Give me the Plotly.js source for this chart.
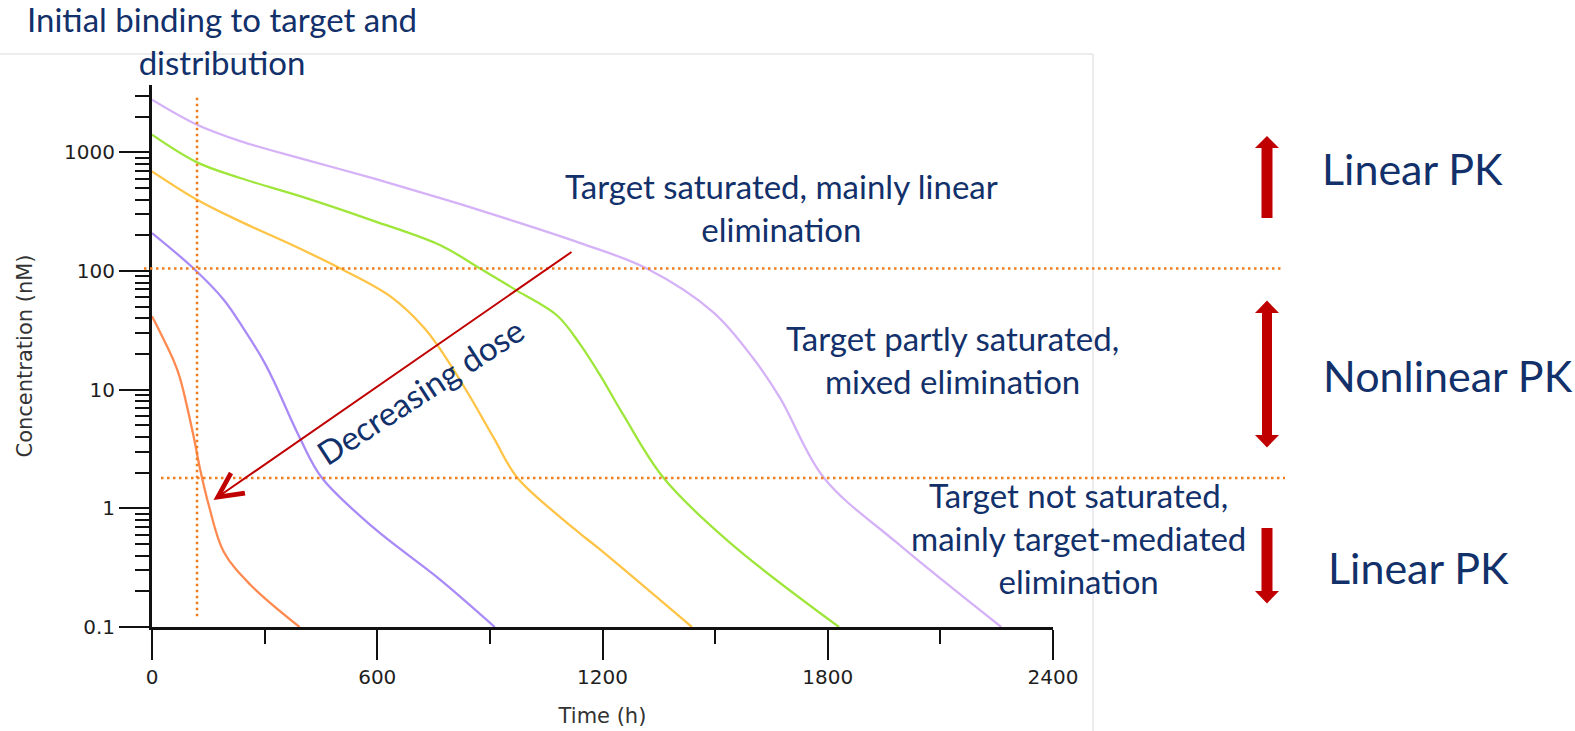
<!DOCTYPE html>
<html><head><meta charset="utf-8">
<script src="https://cdn.plot.ly/plotly-3.0.1.min.js"></script>
<style>html,body{margin:0;padding:0;background:#fff;} #chart{width:1575px;height:731px;}</style>
</head><body><div id="chart"></div>
<script>
// ---- data (time in h, concentration in nM) ----
const seriesNames = ['Dose 5', 'Dose 4', 'Dose 3', 'Dose 2', 'Dose 1'];
const seriesColors = ['#d5b2f8', '#9ee63a', '#ffc445', '#a98af7', '#ff8a50'];

const timeDose5 = [0, 120, 235, 413, 590, 768, 946, 1141, 1318, 1496, 1602, 1674, 1789, 1984, 2262];
const concDose5 = [2780, 1710, 1245, 861, 603, 412, 275, 172, 105, 44.7, 18.3, 8.41, 1.82, 0.513, 0.1];

const timeDose4 = [0, 120, 235, 413, 590, 768, 874, 972, 1079, 1141, 1194, 1256, 1363, 1540, 1830];
const concDose4 = [1410, 824, 608, 410, 265, 165, 105, 68.4, 42.2, 24.0, 13.2, 6.10, 1.80, 0.511, 0.1];

const timeDose3 = [0, 120, 235, 368, 502, 635, 724, 768, 839, 910, 972, 1096, 1141, 1194, 1438];
const concDose3 = [692, 399, 262, 169, 105, 61.1, 33.5, 21.9, 9.66, 3.94, 1.83, 0.80, 0.61, 0.448, 0.1];

const timeDose2 = [0, 111, 191, 244, 297, 324, 395, 453, 590, 768, 913];
const concDose2 = [209, 105, 57.3, 32.7, 17.5, 11.9, 3.85, 1.80, 0.687, 0.25, 0.1];

const timeDose1 = [0, 18, 58, 75, 111, 129, 151, 191, 262, 393];
const concDose1 = [41.5, 32.1, 17.5, 12.4, 4.02, 2.07, 1.07, 0.431, 0.227, 0.1];

const xTickVals = [0, 600, 1200, 1800, 2400];
const xTickText = ['0', '600', '1200', '1800', '2400'];
const xMinorVals = [300, 900, 1500, 2100];
const yTickVals = [0.1, 1, 10, 100, 1000];
const yTickText = ['0.1', '1', '10', '100', '1000'];
const yMinorVals = [0.2, 0.3, 0.4, 0.5, 0.6, 0.7, 0.8, 0.9,
                    2, 3, 4, 5, 6, 7, 8, 9,
                    20, 30, 40, 50, 60, 70, 80, 90,
                    200, 300, 400, 500, 600, 700, 800, 900,
                    2000, 3000];

const saturationLevel = 105;   // upper dotted line (nM)
const linearLevel = 1.8;       // lower dotted line (nM)
const distributionTime = 120;  // vertical dotted line (h)

// ---- layout geometry ----
const W = 1575, H = 731;
const M = {l: 152, r: 522, t: 85, b: 104};
const PW = W - M.l - M.r, PH = H - M.t - M.b;
const px = x => (x - M.l) / PW;
const py = y => (H - M.b - y) / PH;
const P = (x, y) => px(x).toFixed(5) + ',' + py(y).toFixed(5);

const txtColor = '#12306a';
const txtFont = {family: 'Lato, Open Sans, sans-serif', size: 33, color: txtColor};
const bigFont = {family: 'Lato, Open Sans, sans-serif', size: 43, color: txtColor};
const red = '#c00000';
const dotColor = '#f07d1f';

const times = [timeDose5, timeDose4, timeDose3, timeDose2, timeDose1];
const concs = [concDose5, concDose4, concDose3, concDose2, concDose1];
const traces = times.map((t, i) => ({
  type: 'scatter', mode: 'lines', name: seriesNames[i],
  x: t, y: concs[i],
  line: {color: seriesColors[i], width: 2.3, shape: 'spline', smoothing: 1.0},
  hoverinfo: 'skip', showlegend: false
}));

function pathShape(d) {
  return {type: 'path', xref: 'paper', yref: 'paper', path: d, fillcolor: red, line: {width: 0}, layer: 'above'};
}

const shapes = [
  // frame lines from the slide
  {type: 'line', xref: 'paper', yref: 'paper', x0: px(0), x1: px(1093), y0: py(54), y1: py(54), line: {color: '#dadada', width: 1}},
  {type: 'line', xref: 'paper', yref: 'paper', x0: px(1093), x1: px(1093), y0: py(54), y1: py(731), line: {color: '#dadada', width: 1}},
  // dotted reference lines
  {type: 'line', xref: 'paper', yref: 'y', x0: px(144), x1: px(1284), y0: saturationLevel, y1: saturationLevel,
   line: {color: dotColor, width: 2.5, dash: '2.5px,3.5px'}},
  {type: 'line', xref: 'paper', yref: 'y', x0: px(161), x1: px(1285), y0: linearLevel, y1: linearLevel,
   line: {color: dotColor, width: 2.5, dash: '2.5px,3.5px'}},
  {type: 'line', xref: 'x', yref: 'y', x0: distributionTime, x1: distributionTime, y0: 0.123, y1: 3060,
   line: {color: dotColor, width: 2.5, dash: '2.5px,3.5px'}},
  // red block arrows
  pathShape('M' + P(1261.5, 218) + 'L' + P(1261.5, 148) + 'L' + P(1255, 148) + 'L' + P(1267, 136) +
            'L' + P(1279, 148) + 'L' + P(1272.5, 148) + 'L' + P(1272.5, 218) + 'Z'),
  pathShape('M' + P(1267, 300.5) + 'L' + P(1279, 313) + 'L' + P(1272, 313) + 'L' + P(1272, 435) +
            'L' + P(1279, 435) + 'L' + P(1267, 447.5) + 'L' + P(1255, 435) + 'L' + P(1262, 435) +
            'L' + P(1262, 313) + 'L' + P(1255, 313) + 'Z'),
  pathShape('M' + P(1261.5, 528) + 'L' + P(1272.5, 528) + 'L' + P(1272.5, 591) + 'L' + P(1279, 591) +
            'L' + P(1267, 603.5) + 'L' + P(1255, 591) + 'L' + P(1261.5, 591) + 'Z')
];

function note(text, x, y, font, xanchor, extra) {
  return Object.assign({text: text, xref: 'paper', yref: 'paper', x: px(x), y: py(y),
    xanchor: xanchor || 'center', yanchor: 'middle', showarrow: false, font: font, align: 'center'}, extra || {});
}

const annotations = [
  note('Initial binding to target and<br>distribution', 222, 41, txtFont),
  note('Target saturated, mainly linear<br>elimination', 781, 207.5, txtFont),
  note('Target partly saturated,<br>mixed elimination', 952, 359, txtFont),
  note('Target not saturated,<br>mainly target-mediated<br>elimination', 1078, 538, txtFont),
  note('Linear PK', 1320, 168, bigFont, 'left'),
  note('Nonlinear PK', 1321, 375, bigFont, 'left'),
  note('Linear PK', 1326, 567, bigFont, 'left'),
  note('Decreasing dose', 420, 391, txtFont, 'center', {textangle: -33}),
  {text: '', xref: 'paper', yref: 'paper', x: px(213.5), y: py(500), showarrow: true,
   axref: 'pixel', ayref: 'pixel', ax: 359.5, ay: -249, arrowhead: 5, arrowsize: 2.4,
   arrowwidth: 2, arrowcolor: red, standoff: 0}
];

const axisCommon = {
  showline: true, linecolor: '#111', linewidth: 3, mirror: false,
  ticks: 'outside', ticklen: 30, tickwidth: 2, tickcolor: '#111',
  tickmode: 'array', showgrid: false, zeroline: false, fixedrange: true,
  tickfont: {family: 'DejaVu Sans, sans-serif', size: 20, color: '#1e1e1e'}
};

const layout = {
  width: W, height: H, margin: M,
  paper_bgcolor: '#fff', plot_bgcolor: '#fff',
  showlegend: false,
  xaxis: Object.assign({}, axisCommon, {
    range: [0, 2400], tickvals: xTickVals, ticktext: xTickText,
    minor: {tickmode: 'array', tickvals: xMinorVals, ticks: 'outside', ticklen: 14, tickwidth: 2, tickcolor: '#111', showgrid: false},
    title: {text: 'Time (h)', font: {family: 'DejaVu Sans, sans-serif', size: 21, color: '#333'}, standoff: 21}
  }),
  yaxis: Object.assign({}, axisCommon, {
    type: 'log', range: [-1, 3.568], tickvals: yTickVals, ticktext: yTickText,
    minor: {tickmode: 'array', tickvals: yMinorVals, ticks: 'outside', ticklen: 14, tickwidth: 2, tickcolor: '#111', showgrid: false},
    title: {text: 'Concentration (nM)', font: {family: 'DejaVu Sans, sans-serif', size: 21, color: '#333'}, standoff: 26}
  }),
  shapes: shapes,
  annotations: annotations
};

Plotly.newPlot('chart', traces, layout, {staticPlot: true, displayModeBar: false});
</script>
</body></html>
